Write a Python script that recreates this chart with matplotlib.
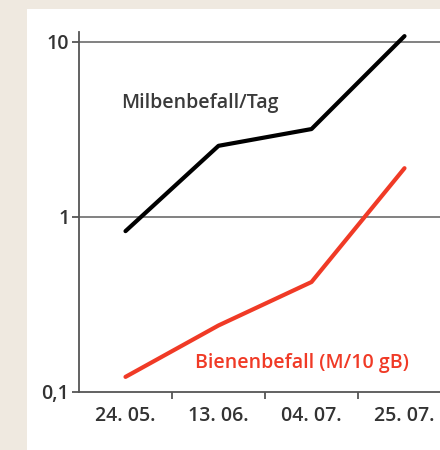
import matplotlib
matplotlib.use("Agg")
import matplotlib.pyplot as plt
from matplotlib.patches import Rectangle
from matplotlib.ticker import FixedLocator, NullFormatter, FixedFormatter

categories = ["24. 05.", "13. 06.", "04. 07.", "25. 07."]
milben_tag = [0.83, 2.55, 3.18, 10.8]
bienen_befall = [0.122, 0.24, 0.425, 1.9]
ytick_vals = [0.1, 1, 10]
ytick_labels = ["0,1", "1", "10"]

plt.rcParams['font.family'] = ['Open Sans', 'DejaVu Sans']

W, H = 440, 450
fig = plt.figure(figsize=(W/100, H/100), dpi=100)
fig.patch.set_facecolor("#efe9e0")
bg = fig.add_axes([27/W, 0, 1 - 27/W, (H - 9)/H], zorder=-10)
bg.set_axis_off()
bg.add_patch(Rectangle((0, 0), 1, 1, transform=bg.transAxes,
                       facecolor="white", edgecolor="none"))

ax = fig.add_axes([79/W, (H - 392)/H, 1 - 79/W, (392 - 32)/H])
ax.set_facecolor("none")
x = list(range(len(categories)))
ax.plot(x, milben_tag, color="black", lw=3.0, solid_capstyle="round", zorder=3)
ax.plot(x, bienen_befall, color="#f03a26", lw=3.0, solid_capstyle="round", zorder=3)

ax.set_yscale("log")
ax.set_ylim(0.1, 11.4)
ax.set_xlim(-0.5, (440 - 79) / 93 - 0.5)

ax.yaxis.set_major_locator(FixedLocator(ytick_vals))
ax.yaxis.set_major_formatter(FixedFormatter(ytick_labels))
ax.yaxis.set_minor_locator(FixedLocator([]))
ax.yaxis.set_minor_formatter(NullFormatter())

ax.set_xticks([0.5, 1.5, 2.5])
ax.set_xticklabels([])
ax.set_xticks(x, minor=True)
ax.set_xticklabels(categories, minor=True)

FS = 14
ax.tick_params(axis="y", which="major", direction="out", length=5, width=1.3,
               color="#555555", labelsize=FS, labelcolor="#333333", pad=2)
ax.tick_params(axis="x", which="major", direction="out", length=5, width=1.3,
               color="#555555")
ax.tick_params(axis="x", which="minor", length=0, labelsize=FS,
               labelcolor="#333333", pad=10)
for lab in ax.get_yticklabels() + ax.get_xticklabels(minor=True):
    lab.set_fontweight("semibold")

for s in ["top", "right"]:
    ax.spines[s].set_visible(False)
for s in ["left", "bottom"]:
    ax.spines[s].set_color("#555555")
    ax.spines[s].set_linewidth(1.3)

for v in [1, 10]:
    ax.axhline(v, color="#777777", lw=1.3, zorder=1)

ax.text(0.80, 4.48, "Milbenbefall/Tag", color="#3a3a3a", fontsize=FS,
        fontweight="semibold", ha="center", va="center")
ax.text(1.90, 0.1465, "Bienenbefall (M/10 gB)", color="#f03a26", fontsize=FS,
        fontweight="semibold", ha="center", va="center")

fig.savefig("out.png", dpi=100, facecolor=fig.get_facecolor())
